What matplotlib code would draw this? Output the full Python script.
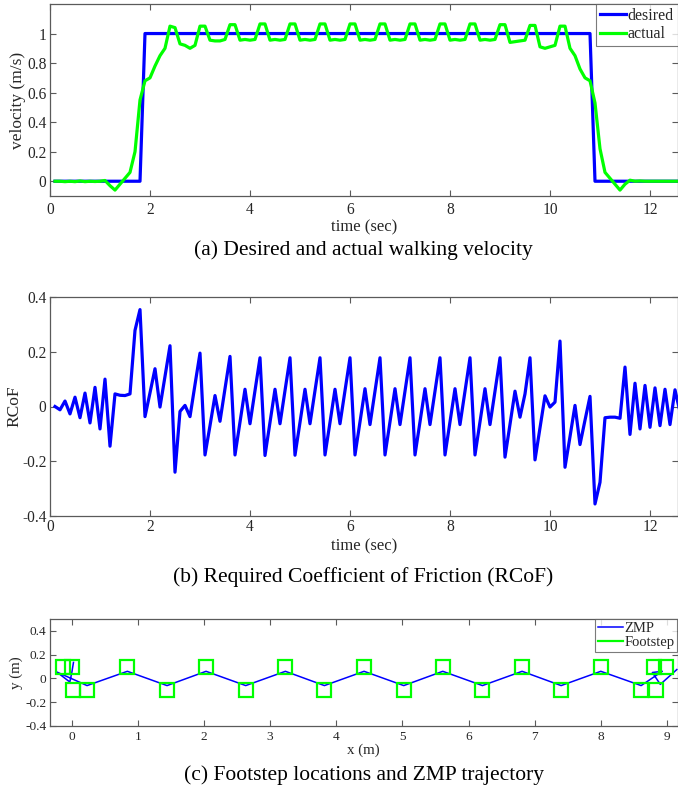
import numpy as np
import matplotlib
matplotlib.use("Agg")
import matplotlib.pyplot as plt
from matplotlib.lines import Line2D

plt.rcParams['font.family'] = ['Liberation Serif', 'DejaVu Serif']

# ---------------- data ----------------
# (a) velocity, sampled every 0.1 s from 0.1 s to 12.6 s
time = np.round(np.arange(0.1, 12.65, 0.1), 1)

desired_t = [0.1, 1.8, 1.9, 10.8, 10.9, 12.6]
desired_v = [0.0, 0.0, 1.0, 1.0, 0.0, 0.0]

actual_v = [
    0.0, 0.0, -0.003, 0.0, -0.003, 0.002, -0.003, 0.0, -0.002, 0.0,
    0.005, -0.03, -0.06, -0.02, 0.02, 0.06, 0.20, 0.55, 0.68, 0.70,
    0.78, 0.85, 0.90, 1.05, 1.04, 0.93, 0.92, 0.90, 0.92, 1.05,
    1.05, 0.955, 0.95, 0.95, 0.96, 1.06, 1.06, 0.955, 0.96, 0.955,
    0.96, 1.065, 1.065, 0.955, 0.96, 0.955, 0.96, 1.065, 1.065, 0.955,
    0.96, 0.955, 0.96, 1.065, 1.065, 0.955, 0.96, 0.955, 0.96, 1.065,
    1.065, 0.955, 0.96, 0.955, 0.96, 1.065, 1.065, 0.955, 0.96, 0.955,
    0.96, 1.065, 1.065, 0.955, 0.96, 0.955, 0.96, 1.065, 1.065, 0.955,
    0.96, 0.955, 0.96, 1.065, 1.065, 0.955, 0.96, 0.955, 0.96, 1.06,
    1.06, 0.94, 0.945, 0.95, 0.955, 1.055, 1.055, 0.91, 0.90, 0.91,
    0.92, 1.05, 1.05, 0.90, 0.85, 0.76, 0.70, 0.68, 0.53, 0.22,
    0.06, 0.02, -0.02, -0.06, -0.02, 0.007, 0.0, 0.002, 0.0, 0.0,
    0.0, 0.0, 0.0, 0.0, 0.0, 0.0,
]

# (b) required coefficient of friction
rcof = [
    0.0, -0.012, 0.02, -0.027, 0.034, -0.041, 0.049, -0.06, 0.07, -0.082,
    0.10, -0.145, 0.046, 0.041, 0.04, 0.046, 0.278, 0.354, -0.037, 0.05,
    0.138, -0.002, 0.11, 0.222, -0.24, -0.018, 0.004, -0.037, 0.08, 0.195,
    -0.177, -0.07, 0.04, -0.054, 0.065, 0.183, -0.177, -0.057, 0.063, -0.063,
    0.058, 0.178, -0.179, -0.058, 0.063, -0.063, 0.058, 0.178, -0.178, -0.058,
    0.063, -0.063, 0.058, 0.178, -0.177, -0.058, 0.063, -0.063, 0.058, 0.178,
    -0.177, -0.056, 0.065, -0.066, 0.056, 0.178, -0.177, -0.056, 0.065, -0.066,
    0.056, 0.178, -0.177, -0.056, 0.065, -0.066, 0.056, 0.178, -0.177, -0.056,
    0.065, -0.066, 0.056, 0.178, -0.177, -0.056, 0.065, -0.066, 0.056, 0.178,
    -0.185, -0.065, 0.056, -0.039, 0.046, 0.178, -0.195, -0.078, 0.039, -0.002,
    0.016, 0.239, -0.222, -0.11, 0.004, -0.139, -0.05, 0.037, -0.356, -0.277,
    -0.041, -0.039, -0.039, -0.043, 0.144, -0.102, 0.085, -0.082, 0.077, -0.076,
    0.068, -0.07, 0.063, -0.066, 0.061, -0.02,
]

# (c) footsteps and ZMP
foot_x = [-0.14, 0.01, 0.02, 0.23, 0.84, 1.44, 2.03, 2.63, 3.23, 3.82, 4.42,
          5.02, 5.61, 6.21, 6.81, 7.40, 8.00, 8.61, 8.81, 8.84, 8.99]
foot_y = [0.1, 0.1, -0.1, -0.1, 0.1, -0.1, 0.1, -0.1, 0.1, -0.1, 0.1,
          -0.1, 0.1, -0.1, 0.1, -0.1, 0.1, -0.1, 0.1, -0.1, 0.1]

zmp_x = [0.025, 0.0, -0.03, -0.23, 0.23, 0.84, 1.44, 2.03, 2.63, 3.23, 3.82,
         4.42, 5.02, 5.61, 6.21, 6.81, 7.40, 8.00, 8.61, 8.93, 8.78, 8.90, 9.15]
zmp_y = [0.135, 0.05, -0.03, 0.055, -0.06, 0.06, -0.06, 0.06, -0.06, 0.06, -0.06,
         0.06, -0.06, 0.06, -0.06, 0.06, -0.06, 0.06, -0.06, 0.06, 0.05, -0.05, 0.075]

captions = ["(a) Desired and actual walking velocity",
            "(b) Required Coefficient of Friction (RCoF)",
            "(c) Footstep locations and ZMP trajectory"]

BLUE = '#0000ff'
GREEN = '#00ff00'
SPINE = '#5a5a5a'
TXT = '#262626'

W, H = 678, 794
fig = plt.figure(figsize=(W / 100, H / 100), dpi=100)


def rect(left, top, right, bottom):
    return [left / W, 1 - bottom / H, (right - left) / W, (bottom - top) / H]


def style(ax, fs, pad_x, pad_y):
    ax.tick_params(direction='in', top=True, right=True, length=4.3, width=0.8,
                   color=SPINE, labelcolor=TXT, labelsize=fs)
    ax.tick_params(axis='x', pad=pad_x)
    ax.tick_params(axis='y', pad=pad_y)
    for s in ax.spines.values():
        s.set_color(SPINE)
        s.set_linewidth(0.9)


# ---- (a) ----
ax1 = fig.add_axes(rect(50, 4, 677.5, 196))
ax1.plot(desired_t, desired_v, color=BLUE, lw=2.3, label='desired')
ax1.plot(time, actual_v, color=GREEN, lw=2.3, label='actual')
ax1.set_xlim(0, 12.55)
ax1.set_ylim(-0.1, 1.2)
ax1.set_xticks([0, 2, 4, 6, 8, 10, 12])
ax1.set_yticks([0, 0.2, 0.4, 0.6, 0.8, 1])
ax1.set_yticklabels(['0', '0.2', '0.4', '0.6', '0.8', '1'])
style(ax1, 11.2, 4.0, 2.5)
ax1.set_xlabel('time (sec)', fontsize=12, color=TXT)
ax1.xaxis.set_label_coords(0.5, -0.163)
ax1.xaxis.label.set_va('center')
ax1.set_ylabel('velocity (m/s)', fontsize=12.5, color=TXT)
ax1.yaxis.set_label_coords(-0.051, 0.5)
ax1.yaxis.label.set_va('center')
leg = ax1.legend(loc='upper right', fontsize=11.5, frameon=True, fancybox=False,
                 borderaxespad=0, handlelength=1.6, handletextpad=0.1,
                 borderpad=0.25, labelspacing=0.15)
leg.get_frame().set_edgecolor(SPINE)
leg.get_frame().set_linewidth(0.8)
for t in leg.get_texts():
    t.set_color(TXT)

# ---- (b) ----
ax2 = fig.add_axes(rect(50, 297, 677.5, 516))
ax2.plot(time, rcof, color=BLUE, lw=2.3)
ax2.set_xlim(0, 12.55)
ax2.set_ylim(-0.4, 0.4)
ax2.set_xticks([0, 2, 4, 6, 8, 10, 12])
ax2.set_yticks([-0.4, -0.2, 0, 0.2, 0.4])
ax2.set_yticklabels(['-0.4', '-0.2', '0', '0.2', '0.4'])
style(ax2, 11.2, 2.0, 2.5)
ax2.set_xlabel('time (sec)', fontsize=12, color=TXT)
ax2.xaxis.set_label_coords(0.5, -0.14)
ax2.xaxis.label.set_va('center')
ax2.set_ylabel('RCoF', fontsize=12.5, color=TXT)
ax2.yaxis.set_label_coords(-0.057, 0.5)
ax2.yaxis.label.set_va('center')

# ---- (c) ----
ax3 = fig.add_axes(rect(50, 619, 677.5, 726))
ax3.plot(zmp_x, zmp_y, color=BLUE, lw=1.1)
ax3.plot(foot_x, foot_y, linestyle='none', marker='s', ms=10, mfc='none',
         mec=GREEN, mew=1.6)
ax3.set_xlim(-0.33, 9.16)
ax3.set_ylim(-0.4, 0.5)
ax3.set_xticks(range(0, 10))
ax3.set_yticks([-0.4, -0.2, 0, 0.2, 0.4])
ax3.set_yticklabels(['-0.4', '-0.2', '0', '0.2', '0.4'])
style(ax3, 9.6, 3.5, 2.5)
ax3.set_xlabel('x (m)', fontsize=10.8, color=TXT)
ax3.xaxis.set_label_coords(0.5, -0.225)
ax3.xaxis.label.set_va('center')
ax3.set_ylabel('y (m)', fontsize=10.8, color=TXT)
ax3.yaxis.set_label_coords(-0.053, 0.5)
ax3.yaxis.label.set_va('center')
handles = [Line2D([], [], color=BLUE, lw=1.1), Line2D([], [], color=GREEN, lw=1.6)]
leg3 = ax3.legend(handles, ['ZMP', 'Footstep'], loc='upper right', fontsize=10.5,
                  frameon=True, fancybox=False, borderaxespad=0, handlelength=1.7,
                  handletextpad=0.1, borderpad=0.2, labelspacing=0.05)
leg3.get_frame().set_edgecolor(SPINE)
leg3.get_frame().set_linewidth(0.8)
for t in leg3.get_texts():
    t.set_color(TXT)

# captions
fig.text(0.5 * (50 + 677) / W, 1 - 250 / H, captions[0], ha='center', va='center', fontsize=15.5)
fig.text(0.5 * (50 + 677) / W, 1 - 577 / H, captions[1], ha='center', va='center', fontsize=15.5)
fig.text(0.5 * (50 + 677) / W, 1 - 775 / H, captions[2], ha='center', va='center', fontsize=15.5)

fig.savefig('out.png', dpi=100)
